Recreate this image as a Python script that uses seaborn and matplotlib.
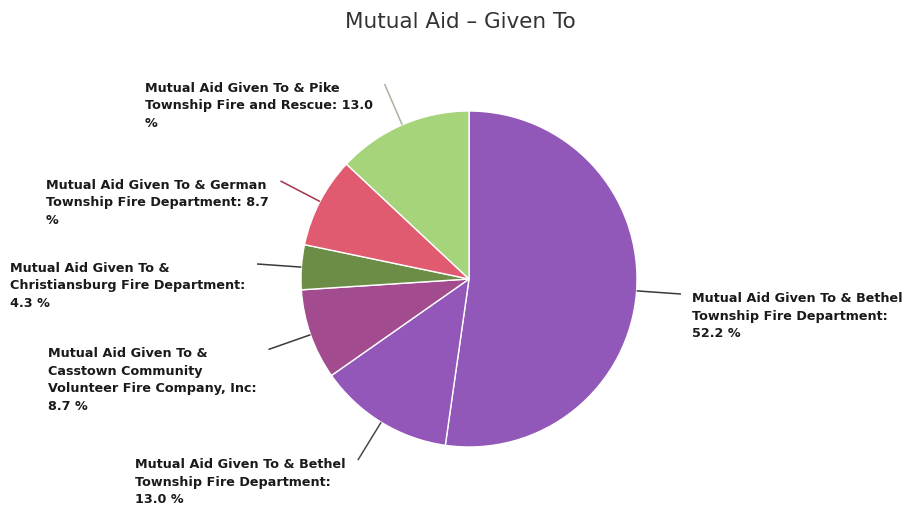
import numpy as np
import matplotlib
matplotlib.use("Agg")
import matplotlib.pyplot as plt
import seaborn as sns

sns.set_theme(style="white")
plt.rcParams['font.family'] = ['DejaVu Sans']

# ---- data ----
categories = [
    "Mutual Aid Given To & Bethel\nTownship Fire Department:\n52.2 %",
    "Mutual Aid Given To & Bethel\nTownship Fire Department:\n13.0 %",
    "Mutual Aid Given To &\nCasstown Community\nVolunteer Fire Company, Inc:\n8.7 %",
    "Mutual Aid Given To &\nChristiansburg Fire Department:\n4.3 %",
    "Mutual Aid Given To & German\nTownship Fire Department: 8.7\n%",
    "Mutual Aid Given To & Pike\nTownship Fire and Rescue: 13.0\n%",
]
values = [52.2, 13.0, 8.7, 4.3, 8.7, 13.0]
colors = ["#9158b9", "#9356b9", "#a24b8e", "#6c8d45", "#e05a70", "#a5d47b"]
connector_colors = ["#3a3a3a", "#4a4a4a", "#3a3a3a", "#3a3a3a", "#a3344d", "#a9b3a0"]
title = "Mutual Aid \u2013 Given To"

# ---- layout (pixel geometry of the reference) ----
W, H, DPI = 905, 506, 100
CX, CY, R = 469, 280, 168

fig = plt.figure(figsize=(W / DPI, H / DPI), dpi=DPI)
fig.patch.set_facecolor("white")
ax = fig.add_axes([0, 0, 1, 1])

wedges, _ = ax.pie(values, colors=colors, startangle=90, counterclock=False,
                   radius=1.0, center=(0, 0),
                   wedgeprops=dict(edgecolor="white", linewidth=1.0))
ax.set_aspect("auto")
ax.set_xlim((0 - CX) / R, (W - CX) / R)
ax.set_ylim((CY - H) / R, (CY - 0) / R)
ax.axis("off")

px = 1.0 / R  # one pixel in data units
for w, lab, cc in zip(wedges, categories, connector_colors):
    ang = np.deg2rad((w.theta1 + w.theta2) / 2.0)
    x0, y0 = np.cos(ang), np.sin(ang)
    x1, y1 = 1.265 * x0, 1.265 * y0
    ax.plot([x0, x1], [y0, y1], color=cc, lw=1.1, solid_capstyle="butt")
    if x1 >= 0:
        tx, ha = x1 + 11 * px, "left"
    else:
        tx, ha = x1 - 12 * px, "right"
    ax.text(tx, y1 + 3 * px, lab, ha=ha, va="top", multialignment="left",
            fontsize=9.2, fontweight="bold", color="#1a1a1a", linespacing=1.45)

fig.text(460 / W, 1 - 22 / H, title, ha="center", va="center",
         fontsize=15.5, color="#333333")

fig.savefig("out.png", dpi=DPI, facecolor="white")
